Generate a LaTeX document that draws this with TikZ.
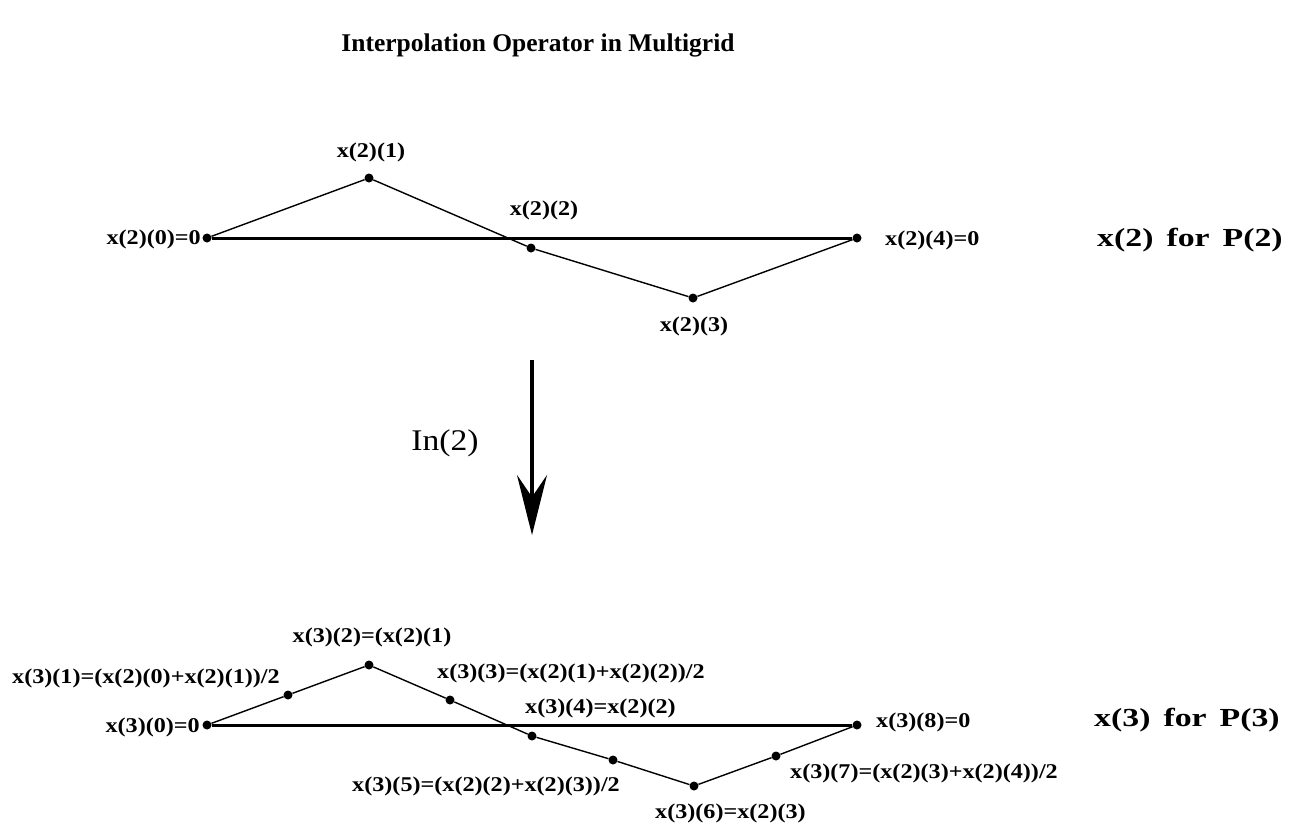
\documentclass[tikz,border=0pt]{standalone}
\usepackage{fontspec}
\setmainfont{Liberation Serif}
\newfontfamily\labfont{Liberation Serif}[FakeStretch=1.15]
\newfontfamily\bigfont{Liberation Serif}[FakeStretch=1.3]
\newfontfamily\infont{Liberation Serif}[FakeStretch=1.12]
\usetikzlibrary{arrows.meta}
\tikzset{
  dot/.style={circle, fill=black, inner sep=0pt, minimum size=9pt},
  lab/.style={inner sep=0pt, font=\labfont\bfseries\fontsize{21}{24}\selectfont},
  biglab/.style={inner sep=0pt, font=\bigfont\bfseries\fontsize{26}{30}\selectfont},
  thinline/.style={line width=1.4pt},
  thickline/.style={line width=3pt},
}
\begin{document}
\begin{tikzpicture}[x=1pt,y=-1pt]
\useasboundingbox[fill=white] (0,0) rectangle (1293,828);
% title
\node[inner sep=0pt, font=\bfseries\fontsize{25.5}{29}\selectfont] (title) at (538,45) {Interpolation Operator in Multigrid};
% ---------- top grid
\node[dot] (a0) at (207,238) {};
\node[dot] (a1) at (369,178) {};
\node[dot] (a2) at (531,248) {};
\node[dot] (a3) at (693,298) {};
\node[dot] (a4) at (857,238) {};
\draw[thickline] (a0) -- (a4);
\draw[thinline] (a0) -- (a1) -- (a2) -- (a3) -- (a4);
\node[lab, anchor=east] (la0) at (201,239) {x(2)(0)=0};
\node[lab] (la1) at (371,152) {x(2)(1)};
\node[lab] (la2) at (544,210) {x(2)(2)};
\node[lab] (la3) at (694,326) {x(2)(3)};
\node[lab, anchor=west] (la4) at (885,240) {x(2)(4)=0};
\node[biglab, anchor=west] (p2) at (1097,240) {x(2)\hspace{13pt}for\hspace{13pt}P(2)};
% ---------- arrow
\coordinate (arrS) at (532,360);
\coordinate (arrE) at (532,535);
\draw[line width=4pt, -{Stealth[length=60pt, width=30pt, inset=22pt]}] (arrS) -- (arrE);
\node[inner sep=0pt, font=\infont\fontsize{30}{34}\selectfont] (in2) at (445,443) {In(2)};
% ---------- bottom grid
\node[dot] (b0) at (207,725) {};
\node[dot] (b1) at (288,695) {};
\node[dot] (b2) at (369,665) {};
\node[dot] (b3) at (450,700) {};
\node[dot] (b4) at (532,736) {};
\node[dot] (b5) at (613,760) {};
\node[dot] (b6) at (694,786) {};
\node[dot] (b7) at (776,756) {};
\node[dot] (b8) at (857,725) {};
\draw[thickline] (b0) -- (b8);
\draw[thinline] (b0) -- (b1) -- (b2) -- (b3) -- (b4) -- (b5) -- (b6) -- (b7) -- (b8);
\node[lab, anchor=east] (lb0) at (200,727) {x(3)(0)=0};
\node[lab, anchor=west] (lb1) at (12,678) {x(3)(1)=(x(2)(0)+x(2)(1))/2};
\node[lab] (lb2) at (372,637) {x(3)(2)=(x(2)(1)};
\node[lab, anchor=west] (lb3) at (437,673) {x(3)(3)=(x(2)(1)+x(2)(2))/2};
\node[lab, anchor=west] (lb4) at (525,708) {x(3)(4)=x(2)(2)};
\node[lab, anchor=east] (lb5) at (620,786) {x(3)(5)=(x(2)(2)+x(2)(3))/2};
\node[lab, anchor=west] (lb6) at (655,813) {x(3)(6)=x(2)(3)};
\node[lab, anchor=west] (lb7) at (790,773) {x(3)(7)=(x(2)(3)+x(2)(4))/2};
\node[lab, anchor=west] (lb8) at (876,722) {x(3)(8)=0};
\node[biglab, anchor=west] (p3) at (1094,720) {x(3)\hspace{13pt}for\hspace{13pt}P(3)};
\end{tikzpicture}
\end{document}
